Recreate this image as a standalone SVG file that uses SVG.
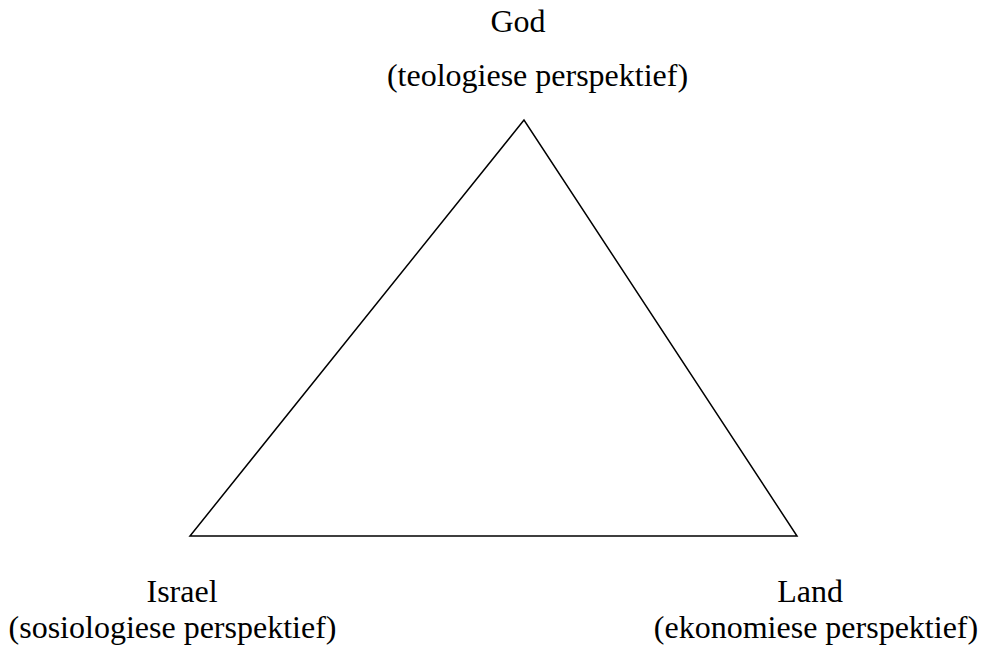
<svg xmlns="http://www.w3.org/2000/svg" width="987" height="648" viewBox="0 0 987 648">
<style>
text{font-family:"Liberation Serif","Times New Roman",serif;font-size:32px;fill:#000}
.edge{stroke:#000;stroke-width:1.5;fill:none}
</style>
<rect width="987" height="648" fill="#fff"/>
<g id="connectors">
<path class="edge" d="M524,120 L190,536 L797,536 Z" stroke-linejoin="miter"/>
</g>
<g id="god">
<text x="518" y="32" text-anchor="middle">God</text>
<text x="537.5" y="86" text-anchor="middle">(teologiese perspektief)</text>
</g>
<g id="israel">
<text x="182" y="602" text-anchor="middle">Israel</text>
<text x="172.5" y="638" text-anchor="middle">(sosiologiese perspektief)</text>
</g>
<g id="land">
<text x="810" y="602" text-anchor="middle">Land</text>
<text x="816" y="638" text-anchor="middle">(ekonomiese perspektief)</text>
</g>
</svg>
